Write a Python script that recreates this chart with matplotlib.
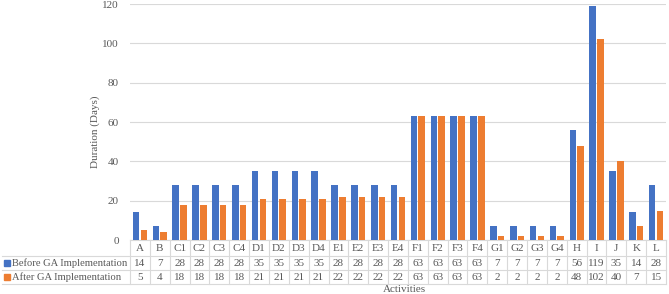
import matplotlib
matplotlib.use("Agg")
import matplotlib.pyplot as plt
from matplotlib.transforms import blended_transform_factory
from matplotlib.patches import Rectangle

categories = ["A", "B", "C1", "C2", "C3", "C4", "D1", "D2", "D3", "D4",
              "E1", "E2", "E3", "E4", "F1", "F2", "F3", "F4",
              "G1", "G2", "G3", "G4", "H", "I", "J", "K", "L"]
before = [14, 7, 28, 28, 28, 28, 35, 35, 35, 35, 28, 28, 28, 28,
          63, 63, 63, 63, 7, 7, 7, 7, 56, 119, 35, 14, 28]
after = [5, 4, 18, 18, 18, 18, 21, 21, 21, 21, 22, 22, 22, 22,
         63, 63, 63, 63, 2, 2, 2, 2, 48, 102, 40, 7, 15]
series_names = ["Before GA Implementation", "After GA Implementation"]
yticks = [0, 20, 40, 60, 80, 100, 120]

plt.rcParams['font.family'] = ['Liberation Serif', 'DejaVu Serif']
W, H = 669, 294
fig = plt.figure(figsize=(W / 100, H / 100), dpi=100)
TXT = '#595959'
GRID = '#D9D9D9'
BLUE = '#4472C4'
ORANGE = '#ED7D31'

L, R, T, B = 130, 666, 4, 240
ax = fig.add_axes([L / W, 1 - B / H, (R - L) / W, (B - T) / H])
n = len(categories)
x = list(range(n))
bw = 0.33
off = 0.195
ax.bar([i - off for i in x], before, width=bw, color=BLUE, zorder=3)
ax.bar([i + off for i in x], after, width=bw, color=ORANGE, zorder=3)
ax.set_xlim(-0.5, n - 0.5)
ax.set_ylim(0, 120)
ax.set_yticks(yticks)
ax.yaxis.grid(True, color=GRID, linewidth=0.8, zorder=0)
ax.set_xticks([])
for s in ax.spines.values():
    s.set_visible(False)
ax.tick_params(axis='y', length=0, pad=8, labelsize=8, labelcolor=TXT)

fig.text(95 / W, 1 - 132 / H, "Duration (Days)", rotation=90, ha='center',
         va='center', fontsize=8, color=TXT)

tr = blended_transform_factory(ax.transData, fig.transFigure)

def fy(py):
    return 1 - py / H

# table lines
ln = dict(color=GRID, linewidth=0.8, clip_on=False)
rows_y = [240, 256, 270, 284]
ax.plot([-0.5, n - 0.5], [fy(240)] * 2, transform=tr, **ln)
for yy in rows_y[1:]:
    fig.add_artist(plt.Line2D([2 / W, R / W], [fy(yy)] * 2, color=GRID, linewidth=0.8))
for i in range(n + 1):
    ax.plot([i - 0.5, i - 0.5], [fy(240), fy(284)], transform=tr, **ln)

fs = 8
centers = [248.5, 263, 277]
for i, c in enumerate(categories):
    ax.text(i, fy(centers[0]), c, transform=tr, ha='center', va='center',
            fontsize=fs, color=TXT)
    ax.text(i, fy(centers[1]), str(before[i]), transform=tr, ha='center',
            va='center', fontsize=fs, color=TXT)
    ax.text(i, fy(centers[2]), str(after[i]), transform=tr, ha='center',
            va='center', fontsize=fs, color=TXT)

for k, (name, col) in enumerate(zip(series_names, [BLUE, ORANGE])):
    cy = centers[1 + k]
    fig.add_artist(Rectangle((4 / W, fy(cy + 3)), 6 / W, 6 / H, color=col,
                             transform=fig.transFigure))
    fig.text(12 / W, fy(cy), name, ha='left', va='center', fontsize=7.6, color=TXT)

fig.text(404 / W, fy(290), "Activities", ha='center',
         va='center', fontsize=fs, color=TXT)

fig.savefig("out.png", dpi=100)
